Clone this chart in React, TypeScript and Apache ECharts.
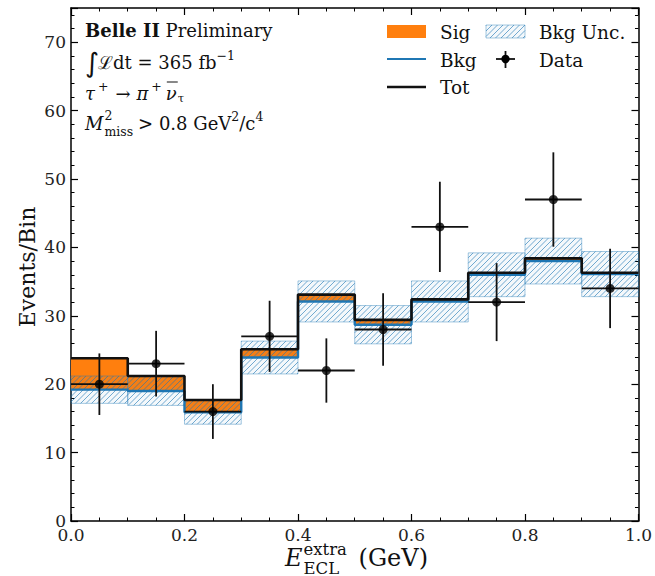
import React, { useEffect, useRef } from 'react';
import * as echarts from 'echarts';

// ---- data ----
const binEdges = [0.0, 0.1, 0.2, 0.3, 0.4, 0.5, 0.6, 0.7, 0.8, 0.9, 1.0];
const bkgValues = [19.2, 19.0, 15.9, 23.9, 32.1, 28.7, 32.1, 36.0, 38.0, 36.1];
const totValues = [23.8, 21.2, 17.7, 25.1, 33.1, 29.4, 32.4, 36.3, 38.4, 36.3];
const bkgUncValues = [2.0, 2.1, 1.75, 2.4, 3.0, 2.8, 3.0, 3.2, 3.35, 3.3];
const dataCounts = [20, 23, 16, 27, 22, 28, 43, 32, 47, 34];
const dataErrors = [4.5, 4.8, 4.0, 5.2, 4.7, 5.3, 6.6, 5.7, 6.9, 5.8];

const SERIF = '"DejaVu Serif", "Liberation Serif", serif';
const ORANGE = '#ff7f0e';
const BLUE = '#1f77b4';
const HATCH = 'rgba(31,119,180,0.62)';
const HATCH_EDGE = 'rgba(31,119,180,0.4)';
const TXT = 18;
const SCR = 12.5;

function hatchChildren(L: number, T: number, R: number, B: number, d = 5.5) {
  const children: any[] = [
    {
      type: 'rect',
      shape: { x: L, y: T, width: R - L, height: B - T },
      style: { fill: 'rgba(31,119,180,0.05)', stroke: HATCH_EDGE, lineWidth: 1 },
    },
  ];
  for (let c = Math.ceil((L + T) / d) * d; c <= R + B; c += d) {
    const a = Math.max(L, c - B);
    const b = Math.min(R, c - T);
    if (b > a) {
      children.push({
        type: 'line',
        shape: { x1: a, y1: c - a, x2: b, y2: c - b },
        style: { stroke: HATCH, lineWidth: 1 },
      });
    }
  }
  return children;
}

let measureCtx: CanvasRenderingContext2D | null = null;
function measure(text: string, size: number, weight = 'normal', fstyle = 'normal') {
  if (!measureCtx) measureCtx = document.createElement('canvas').getContext('2d');
  measureCtx!.font = `${fstyle} ${weight} ${size}px "DejaVu Serif"`;
  return measureCtx!.measureText(text).width;
}

type Piece = { t: string; size?: number; dy?: number; italic?: boolean; bold?: boolean; gap?: number; family?: string };
function runText(x: number, y: number, pieces: Piece[]) {
  const els: any[] = [];
  let cx = x;
  const starts: number[] = [];
  for (const p of pieces) {
    const size = p.size ?? TXT;
    const fstyle = p.italic ? 'italic' : 'normal';
    const weight = p.bold ? 'bold' : 'normal';
    cx += p.gap ?? 0;
    starts.push(cx);
    els.push({
      type: 'text',
      x: cx,
      y: y + (p.dy ?? 0),
      style: {
        text: p.t,
        fontFamily: p.family ?? SERIF,
        fontSize: size,
        fontStyle: fstyle,
        fontWeight: weight,
        fill: '#111',
        align: 'left',
        verticalAlign: 'middle',
      },
    });
    cx += measure(p.t, size, weight, fstyle);
  }
  return { els, end: cx, starts };
}

export default function App() {
  const ref = useRef<HTMLDivElement>(null);

  useEffect(() => {
    document.body.style.margin = '0';
    const chart = echarts.init(ref.current!, undefined, { renderer: 'svg' });

    const nb = dataCounts.length;
    const centers = dataCounts.map((_, i) => (binEdges[i] + binEdges[i + 1]) / 2);
    const sigRects = totValues.map((t, i) => [binEdges[i], binEdges[i + 1], bkgValues[i], t]);
    const uncRects = bkgValues.map((b, i) => [binEdges[i], binEdges[i + 1], b - bkgUncValues[i], b + bkgUncValues[i]]);
    const stepPts = (vals: number[]) => [
      ...vals.map((v, i) => [binEdges[i], v]),
      [binEdges[nb], vals[nb - 1]],
    ];
    const errData = dataCounts.map((c, i) => [centers[i], c, dataErrors[i], (binEdges[i + 1] - binEdges[i]) / 2]);

    // ---- annotation text ----
    const g: any[] = [];
    const X0 = 85;
    g.push(...runText(X0, 30, [{ t: 'Belle II', bold: true }, { t: ' Preliminary' }]).els);
    g.push(
      ...runText(X0, 62, [
        { t: '∫', size: 27, family: '"DejaVu Sans", sans-serif', dy: 0 },
        { t: 'ℒ', gap: -1 },
        { t: 'dt = 365 fb' },
        { t: '−1', size: SCR, dy: -7 },
      ]).els
    );
    {
      const r = runText(X0, 93, [
        { t: 'τ', italic: true },
        { t: '+', size: SCR, dy: -7, gap: 3 },
        { t: '→', gap: 7 },
        { t: 'π', italic: true, gap: 6 },
        { t: '+', size: SCR, dy: -7, gap: 3 },
        { t: 'ν', italic: true, gap: 4 },
      ]);
      g.push(...r.els);
      const nuStart = r.starts[5];
      const nuW = measure('ν', TXT, 'normal', 'italic');
      g.push({ type: 'line', shape: { x1: nuStart + 1, y1: 82, x2: nuStart + nuW + 1, y2: 82 }, style: { stroke: '#111', lineWidth: 1 } });
      g.push(...runText(r.end + 1, 98, [{ t: 'τ', size: SCR - 1 }]).els);
    }
    {
      const mW = measure('M', TXT, 'normal', 'italic');
      g.push(...runText(X0, 123, [{ t: 'M', italic: true }]).els);
      g.push(...runText(X0 + mW + 1, 115, [{ t: '2', size: SCR }]).els);
      g.push(...runText(X0 + mW + 1, 131, [{ t: 'miss', size: SCR }]).els);
      const after = X0 + mW + 1 + measure('miss', SCR) + 5;
      g.push(
        ...runText(after, 123, [
          { t: '> 0.8 GeV' },
          { t: '2', size: SCR, dy: -7 },
          { t: '/c' },
          { t: '4', size: SCR, dy: -7 },
        ]).els
      );
    }

    // ---- legend ----
    g.push({ type: 'rect', shape: { x: 387, y: 25, width: 39, height: 13 }, style: { fill: ORANGE } });
    g.push({ type: 'group', children: hatchChildren(486, 25, 525, 38) });
    g.push({ type: 'line', shape: { x1: 387, y1: 59, x2: 426, y2: 59 }, style: { stroke: BLUE, lineWidth: 2.2 } });
    g.push({ type: 'line', shape: { x1: 387, y1: 87, x2: 426, y2: 87 }, style: { stroke: '#111', lineWidth: 2.5 } });
    g.push({ type: 'line', shape: { x1: 496, y1: 59, x2: 515, y2: 59 }, style: { stroke: '#111', lineWidth: 1.8 } });
    g.push({ type: 'line', shape: { x1: 505.5, y1: 51, x2: 505.5, y2: 68 }, style: { stroke: '#111', lineWidth: 1.8 } });
    g.push({ type: 'circle', shape: { cx: 505.5, cy: 59, r: 4.2 }, style: { fill: '#000' } });
    const legendText = (t: string, x: number, y: number) => ({
      type: 'text', x, y,
      style: { text: t, fontFamily: SERIF, fontSize: 18.5, fill: '#111', align: 'left', verticalAlign: 'middle' },
    });
    g.push(legendText('Sig', 440, 32), legendText('Bkg', 440, 60), legendText('Tot', 440, 87));
    g.push(legendText('Bkg Unc.', 539, 32), legendText('Data', 539, 60));

    // ---- axis titles ----
    g.push({
      type: 'text', x: 27, y: 267, rotation: Math.PI / 2,
      style: { text: 'Events/Bin', fontFamily: SERIF, fontSize: 22, fill: '#111', align: 'center', verticalAlign: 'middle' },
    });
    {
      const eW = measure('E', 24, 'normal', 'italic');
      const x0 = 285;
      g.push(...runText(x0, 558, [{ t: 'E', size: 24, italic: true }]).els);
      g.push(...runText(x0 + eW + 1, 549, [{ t: 'extra', size: 16.5 }]).els);
      g.push(...runText(x0 + eW + 1, 568, [{ t: 'ECL', size: 16.5 }]).els);
      const after = x0 + eW + 1 + Math.max(measure('extra', 16.5), measure('ECL', 16.5));
      g.push(...runText(after + 4, 558, [{ t: ' (GeV)', size: 24 }]).els);
    }

    const axisCommon = {
      axisLine: { show: true, onZero: false, lineStyle: { color: '#000', width: 1.5 } },
      splitLine: { show: false },
    };
    const tick = { show: true, inside: true, length: 7, lineStyle: { color: '#000', width: 1.2 } };

    chart.setOption({
      animation: false,
      backgroundColor: '#fff',
      grid: { left: 71, right: 14, top: 8, bottom: 55, containLabel: false },
      xAxis: [
        {
          type: 'value', min: 0, max: 1, interval: 0.2, position: 'bottom',
          ...axisCommon,
          axisTick: tick,
          minorTick: { show: true, splitNumber: 4, length: 3.5, lineStyle: { color: '#000', width: 1 } },
          axisLabel: { formatter: (v: number) => v.toFixed(1), fontFamily: SERIF, fontSize: 17, color: '#222', margin: 5 },
        },
        {
          type: 'value', min: 0, max: 1, interval: 0.2, position: 'top',
          ...axisCommon,
          axisTick: tick,
          minorTick: { show: true, splitNumber: 4, length: 3.5, lineStyle: { color: '#000', width: 1 } },
          axisLabel: { show: false },
        },
      ],
      yAxis: [
        {
          type: 'value', min: 0, max: 75, interval: 10, position: 'left',
          ...axisCommon,
          axisTick: tick,
          minorTick: { show: true, splitNumber: 5, length: 3.5, lineStyle: { color: '#000', width: 1 } },
          axisLabel: { showMaxLabel: false, fontFamily: SERIF, fontSize: 17, color: '#222', margin: 5 },
        },
        {
          type: 'value', min: 0, max: 75, interval: 10, position: 'right',
          ...axisCommon,
          axisTick: tick,
          minorTick: { show: true, splitNumber: 5, length: 3.5, lineStyle: { color: '#000', width: 1 } },
          axisLabel: { show: false },
        },
      ],
      series: [
        {
          type: 'custom', name: 'Sig', z: 2,
          data: sigRects,
          renderItem: (params: any, api: any) => {
            const p0 = api.coord([api.value(0), api.value(3)]);
            const p1 = api.coord([api.value(1), api.value(2)]);
            return { type: 'rect', shape: { x: p0[0], y: p0[1], width: p1[0] - p0[0], height: p1[1] - p0[1] }, style: { fill: ORANGE } };
          },
        },
        {
          type: 'line', name: 'Bkg', step: 'end', z: 3, symbol: 'none',
          data: stepPts(bkgValues),
          lineStyle: { color: BLUE, width: 2.4 },
        },
        {
          type: 'custom', name: 'Bkg Unc.', z: 4,
          data: uncRects,
          renderItem: (params: any, api: any) => {
            const p0 = api.coord([api.value(0), api.value(3)]);
            const p1 = api.coord([api.value(1), api.value(2)]);
            return { type: 'group', children: hatchChildren(p0[0], p0[1], p1[0], p1[1]) };
          },
        },
        {
          type: 'line', name: 'Tot', step: 'end', z: 5, symbol: 'none',
          data: stepPts(totValues),
          lineStyle: { color: '#111', width: 2.6 },
        },
        {
          type: 'custom', name: 'DataErr', z: 6,
          data: errData,
          renderItem: (params: any, api: any) => {
            const x = api.value(0), y = api.value(1), e = api.value(2), hw = api.value(3);
            const l = api.coord([x - hw, y]);
            const r = api.coord([x + hw, y]);
            const t = api.coord([x, y + e]);
            const b = api.coord([x, y - e]);
            return {
              type: 'group',
              children: [
                { type: 'line', shape: { x1: l[0], y1: l[1], x2: r[0], y2: r[1] }, style: { stroke: '#111', lineWidth: 1.8 } },
                { type: 'line', shape: { x1: t[0], y1: t[1], x2: b[0], y2: b[1] }, style: { stroke: '#111', lineWidth: 1.8 } },
              ],
            };
          },
        },
        {
          type: 'scatter', name: 'Data', z: 7,
          data: dataCounts.map((c, i) => [centers[i], c]),
          symbol: 'circle', symbolSize: 9,
          itemStyle: { color: '#000' },
        },
      ],
      graphic: g,
    });

    return () => chart.dispose();
  }, []);

  return <div ref={ref} style={{ width: 655, height: 576 }} />;
}
